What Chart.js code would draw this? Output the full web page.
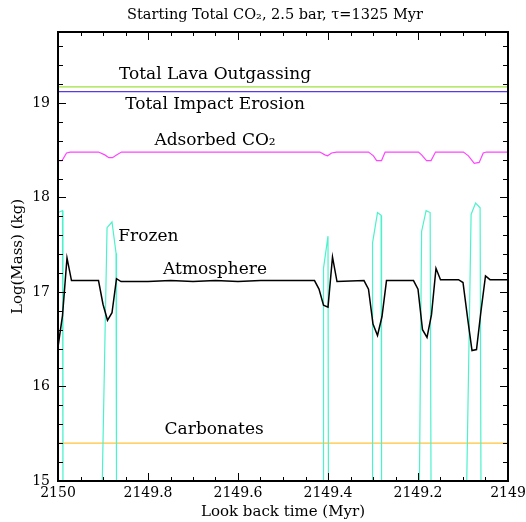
<!DOCTYPE html>
<html>
<head>
<meta charset="utf-8">
<script src="https://cdn.jsdelivr.net/npm/chart.js@4.4.1/dist/chart.umd.min.js"></script>
<style>
  html, body { margin: 0; padding: 0; background: #fff; }
</style>
</head>
<body>
<canvas id="chart" width="526" height="522"></canvas>
<script>
// values (time in Myr, log10 of mass in kg)
const atmTime = [2150.00, 2149.99, 2149.98, 2149.97, 2149.94, 2149.91, 2149.90, 2149.89, 2149.88, 2149.87,
  2149.86, 2149.80, 2149.75, 2149.70, 2149.65, 2149.60, 2149.55, 2149.50, 2149.43, 2149.42,
  2149.41, 2149.40, 2149.39, 2149.38, 2149.32, 2149.31, 2149.30, 2149.29, 2149.28, 2149.27,
  2149.21, 2149.20, 2149.19, 2149.18, 2149.17, 2149.16, 2149.15, 2149.11, 2149.10, 2149.09,
  2149.08, 2149.07, 2149.06, 2149.05, 2149.04, 2149.00];
const atmMass = [16.42, 16.75, 17.36, 17.12, 17.12, 17.12, 16.87, 16.70, 16.78, 17.14,
  17.11, 17.11, 17.12, 17.11, 17.12, 17.11, 17.12, 17.12, 17.12, 17.03,
  16.86, 16.84, 17.37, 17.11, 17.12, 17.03, 16.66, 16.54, 16.74, 17.12,
  17.12, 17.03, 16.60, 16.52, 16.76, 17.25, 17.13, 17.13, 17.10, 16.73,
  16.38, 16.39, 16.80, 17.17, 17.13, 17.13];

// frozen CO2 drops to (almost) nothing between the cold spells
const frozenTime = [2150.000, 2149.990, 2149.989, 2149.902, 2149.891, 2149.880, 2149.871, 2149.870,
  2149.411, 2149.410, 2149.400, 2149.399, 2149.302, 2149.301, 2149.290, 2149.282, 2149.281,
  2149.197, 2149.192, 2149.182, 2149.173, 2149.171, 2149.092, 2149.082, 2149.072, 2149.062,
  2149.060, 2149.000];
const frozenMass = [17.84, 17.86, 14.9, 14.9, 17.68, 17.74, 17.41, 14.9,
  14.9, 17.25, 17.59, 14.9, 14.9, 17.52, 17.84, 17.81, 14.9,
  14.9, 17.64, 17.86, 17.84, 14.9, 14.9, 17.82, 17.94, 17.89,
  14.9, 14.9];

const adsTime = [2150.000, 2149.991, 2149.981, 2149.973, 2149.910, 2149.896, 2149.887, 2149.879,
  2149.870, 2149.859, 2149.418, 2149.407, 2149.401, 2149.392, 2149.381, 2149.310, 2149.299,
  2149.292, 2149.281, 2149.273, 2149.199, 2149.192, 2149.181, 2149.171, 2149.161, 2149.099,
  2149.088, 2149.075, 2149.064, 2149.055, 2149.048, 2149.000];
const adsMass = [18.39, 18.39, 18.47, 18.48, 18.48, 18.45, 18.42, 18.42,
  18.45, 18.48, 18.48, 18.45, 18.44, 18.47, 18.48, 18.48, 18.44,
  18.39, 18.39, 18.48, 18.48, 18.45, 18.39, 18.39, 18.48, 18.48,
  18.44, 18.36, 18.37, 18.47, 18.48, 18.48];

const lavaMass = 19.17;
const impactMass = 19.12;
const carbonateMass = 15.40;

const xMajorTicks = [2150, 2149.8, 2149.6, 2149.4, 2149.2, 2149];
const yMajorTicks = [15, 16, 17, 18, 19];

const FONT = '"DejaVu Serif", "Liberation Serif", serif';
const titleText = 'Starting Total CO\u2082, 2.5 bar, \u03c4=1325 Myr';

// text written inside the plot, anchored in data coordinates
const seriesLabels = [
  { text: 'Total Lava Outgassing', t: 2149.651, v: 19.25, align: 'center' },
  { text: 'Total Impact Erosion', t: 2149.651, v: 18.937, align: 'center' },
  { text: 'Adsorbed CO\u2082', t: 2149.651, v: 18.557, align: 'center' },
  { text: 'Frozen', t: 2149.866, v: 17.536, align: 'left' },
  { text: 'Atmosphere', t: 2149.651, v: 17.19, align: 'center' },
  { text: 'Carbonates', t: 2149.653, v: 15.496, align: 'center' }
];

const pts = (ts, vs) => ts.map((t, i) => ({ x: t, y: vs[i] }));
const flat = v => [{ x: 2150, y: v }, { x: 2149, y: v }];
const isMajor = (v, list) => list.some(m => Math.abs(m - v) < 1e-6);

function minorTicks(min, max, step) {
  const out = [];
  const n = Math.round((max - min) / step);
  for (let i = 0; i <= n; i++) out.push({ value: +(min + i * step).toFixed(4) });
  return out;
}

const framePlugin = {
  id: 'frame',
  afterDraw(chart) {
    const { ctx, chartArea: a, scales: { x, y } } = chart;
    ctx.save();
    ctx.strokeStyle = '#000';
    ctx.lineWidth = 1;
    const seg = (x1, y1, x2, y2) => { ctx.beginPath(); ctx.moveTo(x1, y1); ctx.lineTo(x2, y2); ctx.stroke(); };
    x.ticks.forEach(t => {
      const px = Math.round(x.getPixelForValue(t.value)) + 0.5;
      const len = isMajor(t.value, xMajorTicks) ? 8 : 4;
      seg(px, a.bottom, px, a.bottom - len);
      seg(px, a.top, px, a.top + len);
    });
    y.ticks.forEach(t => {
      const py = Math.round(y.getPixelForValue(t.value)) + 0.5;
      const len = isMajor(t.value, yMajorTicks) ? 8 : 5;
      seg(a.left, py, a.left + len, py);
      seg(a.right, py, a.right - len, py);
    });
    ctx.lineWidth = 2;
    ctx.strokeRect(a.left, a.top, a.right - a.left, a.bottom - a.top);

    ctx.fillStyle = '#000';
    ctx.textBaseline = 'alphabetic';
    ctx.font = '17px ' + FONT;
    seriesLabels.forEach(l => {
      ctx.textAlign = l.align;
      ctx.fillText(l.text, x.getPixelForValue(l.t), y.getPixelForValue(l.v));
    });
    ctx.textAlign = 'center';
    ctx.textBaseline = 'middle';
    ctx.font = '14.5px ' + FONT;
    ctx.fillText(titleText, 275, 15);
    ctx.restore();
  }
};

const lineSet = (data, color, width, order) => ({
  data: data,
  borderColor: color,
  borderWidth: width,
  pointRadius: 0,
  tension: 0,
  fill: false,
  order: order
});

new Chart(document.getElementById('chart'), {
  type: 'line',
  data: {
    datasets: [
      lineSet(pts(atmTime, atmMass), '#000000', 1.5, 0),
      lineSet(pts(frozenTime, frozenMass), '#4cf2cc', 1.2, 1),
      lineSet(pts(adsTime, adsMass), '#ff44ff', 1.2, 2),
      lineSet(flat(carbonateMass), '#ffc43a', 1.2, 3),
      lineSet(flat(impactMass), '#5a3ae6', 1.2, 4),
      lineSet(flat(lavaMass), '#a0e040', 1.2, 5)
    ]
  },
  options: {
    responsive: false,
    animation: false,
    events: [],
    layout: { padding: { top: 32, right: 18, left: 0, bottom: 0 } },
    plugins: {
      legend: { display: false },
      tooltip: { enabled: false },
      title: { display: false }
    },
    scales: {
      x: {
        type: 'linear',
        reverse: true,
        min: 2149,
        max: 2150,
        afterBuildTicks: s => { s.ticks = minorTicks(2149, 2150, 0.05); },
        afterFit: s => { s.height = 41; s.paddingLeft = 0; s.paddingRight = 0; },
        grid: { display: false, drawTicks: false },
        border: { display: false },
        ticks: {
          autoSkip: false,
          maxRotation: 0,
          padding: 4,
          color: '#000',
          font: { family: FONT, size: 14 },
          callback: v => isMajor(v, xMajorTicks) ? String(Math.round(v * 10) / 10) : ''
        },
        title: {
          display: true,
          text: 'Look back time (Myr)',
          color: '#000',
          font: { family: FONT, size: 15 },
          padding: { top: 4, bottom: 1 }
        }
      },
      y: {
        type: 'linear',
        min: 15,
        max: 19.75,
        afterBuildTicks: s => { s.ticks = minorTicks(15, 19.6, 0.2); },
        afterFit: s => { s.width = 58; s.paddingTop = 0; s.paddingBottom = 0; },
        grid: { display: false, drawTicks: false },
        border: { display: false },
        ticks: {
          autoSkip: false,
          padding: 8,
          color: '#000',
          font: { family: FONT, size: 14 },
          callback: v => isMajor(v, yMajorTicks) ? String(Math.round(v)) : ''
        },
        title: {
          display: true,
          text: 'Log(Mass) (kg)',
          color: '#000',
          font: { family: FONT, size: 15 },
          padding: { top: 9, bottom: 0 }
        }
      }
    }
  },
  plugins: [framePlugin]
});
</script>
</body>
</html>
